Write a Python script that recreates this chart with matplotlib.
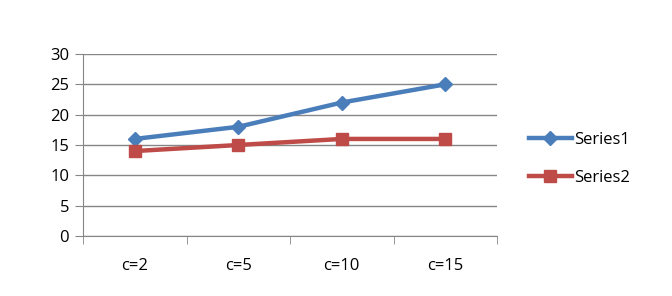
import matplotlib
matplotlib.use("Agg")
import matplotlib.pyplot as plt
from matplotlib.ticker import FixedLocator, NullFormatter

categories = ["c=2", "c=5", "c=10", "c=15"]
series1 = [16, 18, 22, 25]
series2 = [14, 15, 16, 16]
yticks = [0, 5, 10, 15, 20, 25, 30]

plt.rcParams['font.family'] = ['Open Sans', 'DejaVu Sans']

fig = plt.figure(figsize=(6.72, 2.96), dpi=100)
ax = fig.add_axes([83/672, 60/296, 414/672, 182/296])

x = list(range(len(categories)))
l1, = ax.plot(x, series1, color="#4A7EBB", lw=3.2, marker="D", ms=7.5, label="Series1", zorder=3)
l2, = ax.plot(x, series2, color="#BE4B48", lw=3.2, marker="s", ms=9, label="Series2", zorder=3)

ax.set_xlim(-0.5, len(categories) - 0.5)
ax.set_ylim(0, 30)
ax.set_yticks(yticks)
ax.yaxis.grid(True, color="#868686", lw=1)
ax.set_axisbelow(True)
ax.set_xticks(x)
ax.set_xticklabels(categories)
ax.xaxis.set_minor_locator(FixedLocator([i - 0.5 for i in range(len(categories) + 1)]))
ax.xaxis.set_minor_formatter(NullFormatter())
ax.tick_params(axis='x', which='major', length=0, pad=16, labelsize=12)
ax.tick_params(axis='x', which='minor', length=6, color="#868686", direction='out')
ax.tick_params(axis='y', length=6, color="#868686", labelsize=12, pad=4)
for s in ["top", "right"]:
    ax.spines[s].set_visible(False)
for s in ["left", "bottom"]:
    ax.spines[s].set_color("#868686")

fig.legend(handles=[l1, l2], loc="center left", bbox_to_anchor=(522/672, 1 - 159/296),
           frameon=False, fontsize=12, handlelength=2.6, labelspacing=1.3,
           handletextpad=0.1, borderaxespad=0)

fig.savefig("out.png", dpi=100)
